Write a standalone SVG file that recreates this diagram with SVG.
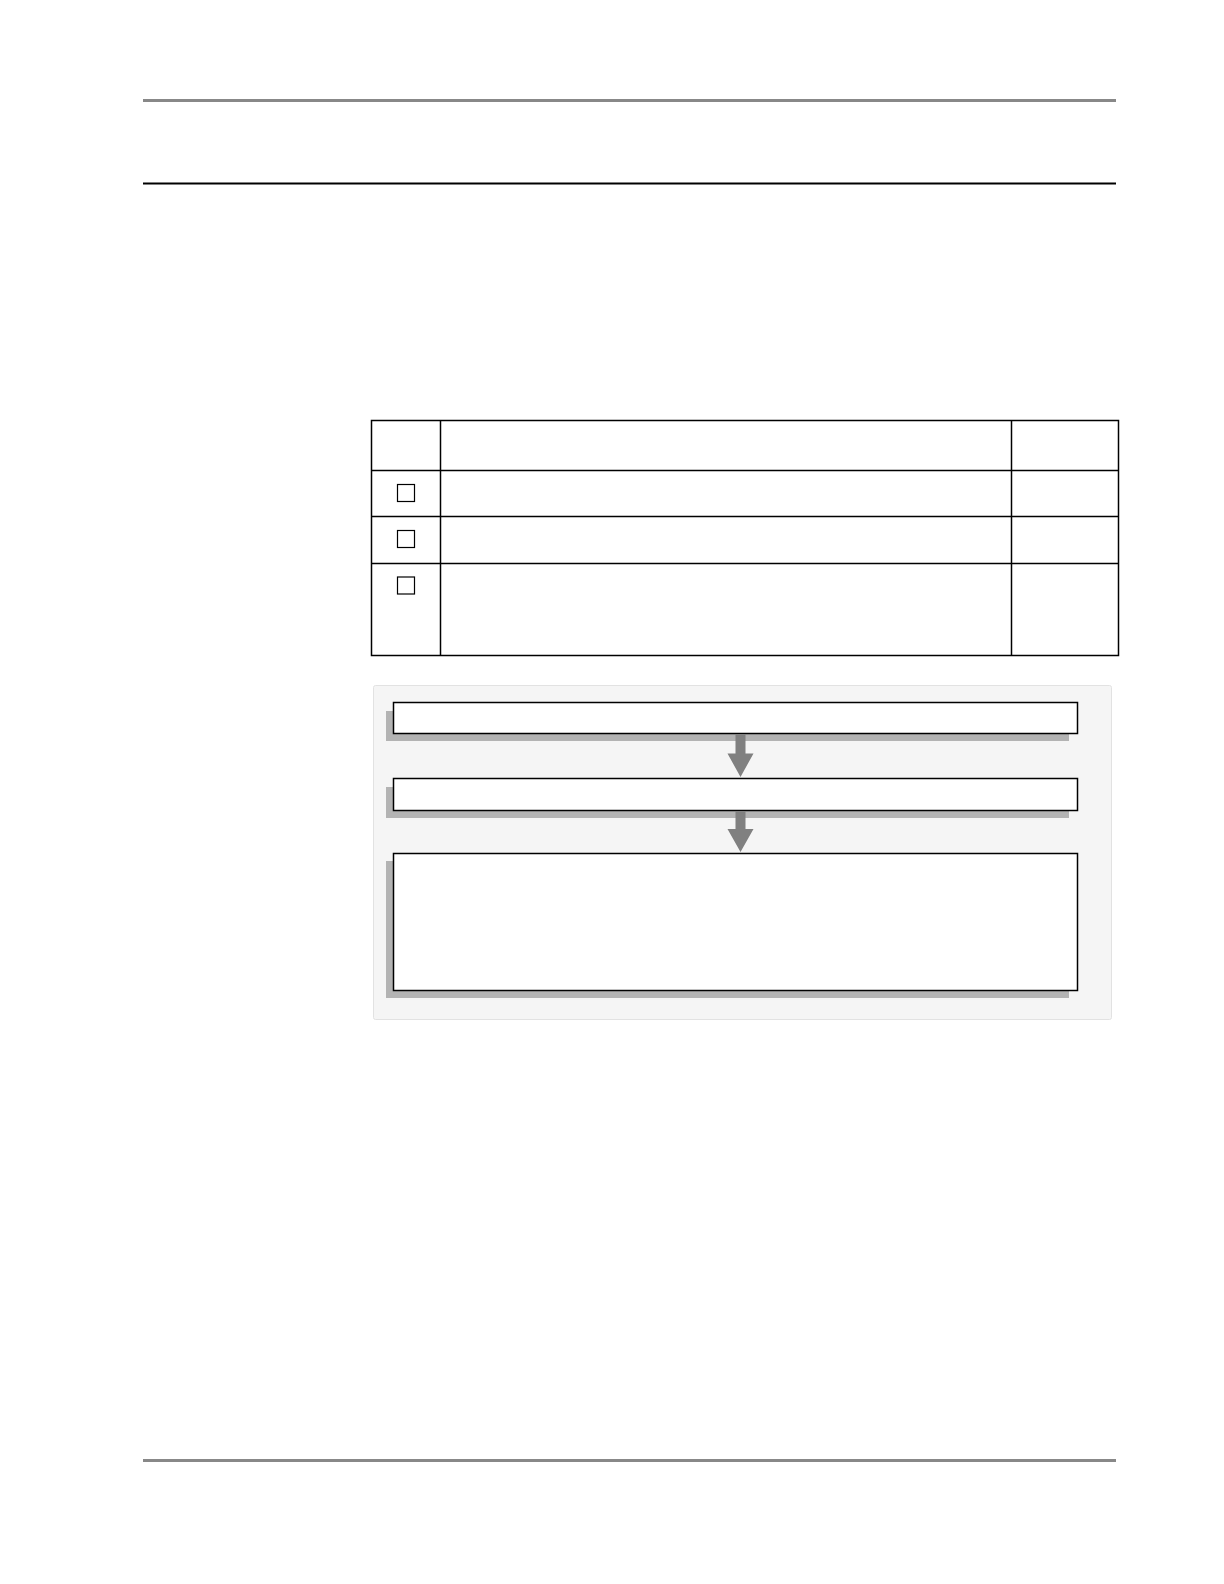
<svg xmlns="http://www.w3.org/2000/svg" width="1224" height="1584" viewBox="0 0 1224 1584">
<style>
.rule-g{fill:#888888}
.rule-k{fill:#000000}
.tbl{fill:none;stroke:#000;stroke-width:1.5}
.chk{fill:#fff;stroke:#000;stroke-width:1.2}
.panel{fill:#f5f5f5;stroke:#e2e2e2;stroke-width:1}
.shadow{fill:#b3b3b3}
.box{fill:#fff;stroke:#000;stroke-width:1.5}
.arrow{fill:#808080}
</style>
<rect width="1224" height="1584" fill="#fff"/>
<g id="header">
<rect class="rule-g" x="143" y="99" width="973" height="3"/>
<rect class="rule-k" x="143" y="182.5" width="973" height="2"/>
</g>
<g id="footer">
<rect class="rule-g" x="143" y="1459" width="973" height="3"/>
</g>
<g id="table">
<rect class="tbl" x="371.5" y="420.5" width="747" height="235"/>
<line class="tbl" x1="440.5" y1="420.5" x2="440.5" y2="655.5"/>
<line class="tbl" x1="1011.5" y1="420.5" x2="1011.5" y2="655.5"/>
<line class="tbl" x1="371.5" y1="470.5" x2="1118.5" y2="470.5"/>
<line class="tbl" x1="371.5" y1="516.5" x2="1118.5" y2="516.5"/>
<line class="tbl" x1="371.5" y1="563.5" x2="1118.5" y2="563.5"/>
<rect id="check1" class="chk" x="397.5" y="484.5" width="17" height="17"/>
<rect id="check2" class="chk" x="397.5" y="530.5" width="17" height="17"/>
<rect id="check3" class="chk" x="397.5" y="577" width="17" height="17"/>
</g>
<g id="panel">
<rect class="panel" x="373.5" y="685.5" width="738" height="334" rx="2"/>
</g>
<g id="step1">
<rect class="shadow" x="386" y="711" width="683" height="30"/>
<rect class="box" x="393.5" y="702.5" width="684" height="31"/>
</g>
<g id="step2">
<rect class="shadow" x="386" y="787" width="683" height="31"/>
<rect class="box" x="393.5" y="778.5" width="684" height="32"/>
</g>
<g id="step3">
<rect class="shadow" x="386" y="861" width="683" height="137"/>
<rect class="box" x="393.5" y="853.5" width="684" height="137"/>
</g>
<g id="connectors">
<polygon class="arrow" points="735.5,734 745.5,734 745.5,753.5 753.5,753.5 740.5,777 727.5,753.5 735.5,753.5"/>
<polygon class="arrow" points="735.5,811 745.5,811 745.5,829 753.5,829 740.5,852 727.5,829 735.5,829"/>
</g>
</svg>
